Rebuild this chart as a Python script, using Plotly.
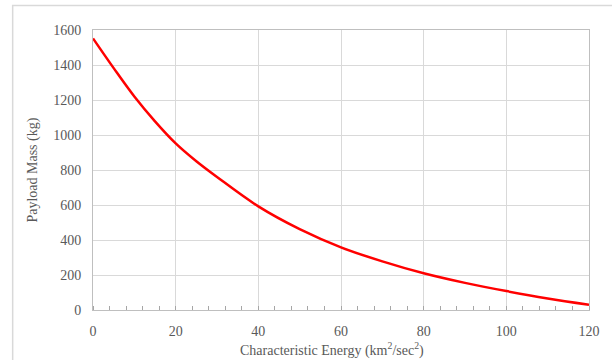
import plotly.graph_objects as go

energy = [0, 5, 10, 15, 20, 25, 30, 40, 50, 60, 70, 80, 90, 100, 110, 120]
payload = [1552, 1382, 1220, 1078, 952, 850, 760, 592, 462, 358, 278, 210, 155, 108, 66, 30]

x_ticks = [0, 20, 40, 60, 80, 100, 120]
y_ticks = [0, 200, 400, 600, 800, 1000, 1200, 1400, 1600]

FONT = "Liberation Serif, Times New Roman, serif"
GRAY = "#595959"

fig = go.Figure()
fig.add_trace(go.Scatter(x=energy, y=payload, mode="lines",
                         line=dict(color="#ff0000", width=2.5, shape="spline", smoothing=1),
                         hoverinfo="skip"))

L, R, T, B = 92.5, 22.5, 30, 50
W, H = 612, 360
pw, ph = W - L - R, H - T - B

fig.update_layout(
    width=W, height=H,
    margin=dict(l=L, r=R, t=T, b=B),
    paper_bgcolor="white", plot_bgcolor="white",
    showlegend=False,
    font=dict(family=FONT, color=GRAY, size=14),
    xaxis=dict(range=[0, 120], tickvals=x_ticks, showgrid=True, gridcolor="#d9d9d9", gridwidth=1,
               zeroline=False, showline=True, linecolor="#bfbfbf", linewidth=1, mirror=True,
               ticks="", ticklabelstandoff=8,
               minor=dict(dtick=4, ticks="inside", ticklen=4, tickcolor="#a6a6a6", showgrid=False),
               tickfont=dict(family=FONT, color=GRAY, size=14)),
    yaxis=dict(range=[0, 1600], tickvals=y_ticks, showgrid=True, gridcolor="#d9d9d9", gridwidth=1,
               zeroline=False, showline=True, linecolor="#bfbfbf", linewidth=1, mirror=True,
               ticks="", ticklabelstandoff=8,
               tickfont=dict(family=FONT, color=GRAY, size=14)),
    shapes=[dict(type="rect", xref="paper", yref="paper",
                 x0=(12 - L) / pw, x1=(W + 5 - L) / pw,
                 y0=-(H + 5 - T - ph) / ph, y1=(ph + T - 5.5) / ph,
                 line=dict(color="#d9d9d9", width=1.5), layer="below")],
    annotations=[
        dict(text="Payload Mass (kg)", xref="paper", yref="paper",
             x=(32 - L) / pw, y=(310 - 170) / ph, textangle=-90, showarrow=False,
             font=dict(family=FONT, color=GRAY, size=14), xanchor="center", yanchor="middle"),
        dict(text="Characteristic Energy (km<sup>2</sup>/sec<sup>2</sup>)", xref="paper", yref="paper",
             x=(332 - L) / pw, y=-(349 - 310) / ph, showarrow=False,
             font=dict(family=FONT, color=GRAY, size=14), xanchor="center", yanchor="middle"),
    ],
)

fig.write_html("out.html")
